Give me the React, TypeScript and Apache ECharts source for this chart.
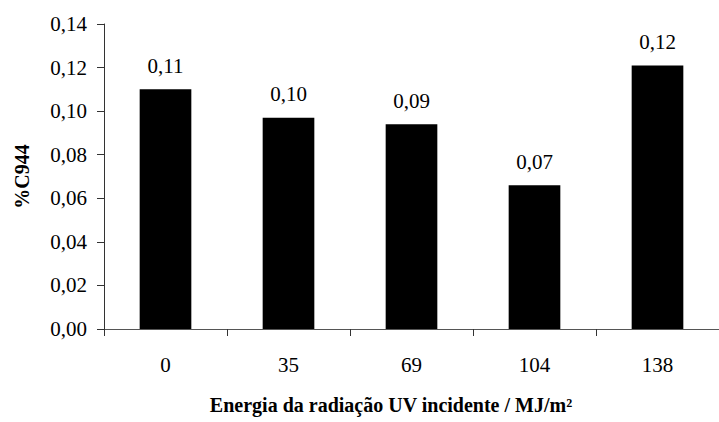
import React, { useEffect, useRef } from "react";
import * as echarts from "echarts";

const categories = ["0", "35", "69", "104", "138"];
const values = [0.110, 0.097, 0.094, 0.066, 0.121];
const yMin = 0;
const yMax = 0.14;
const yInterval = 0.02;
const yAxisName = "%C944";
const xAxisTitle = "Energia da radiação UV incidente / MJ/m²";

const fmt = (v: number) => v.toFixed(2).replace(".", ",");

export default function App() {
  const ref = useRef<HTMLDivElement>(null);
  useEffect(() => {
    if (!ref.current) return;
    const chart = echarts.init(ref.current, undefined, { renderer: "svg" });
    const font = "Times New Roman, Liberation Serif, serif";
    chart.setOption({
      animation: false,
      backgroundColor: "#ffffff",
      textStyle: { fontFamily: font },
      grid: { left: 104, top: 24, width: 622, height: 305, containLabel: false },
      xAxis: {
        type: "category",
        data: categories,
        axisLine: { show: true, lineStyle: { color: "#555", width: 1 } },
        axisTick: { show: true, alignWithLabel: false, length: 7, lineStyle: { color: "#333" } },
        axisLabel: { color: "#000", fontSize: 21, fontFamily: font, margin: 25 },
        splitLine: { show: false },
      },
      yAxis: {
        type: "value",
        min: yMin,
        max: yMax,
        interval: yInterval,
        name: yAxisName,
        nameLocation: "middle",
        nameGap: 72,
        nameRotate: 90,
        nameTextStyle: { color: "#000", fontSize: 20, fontWeight: "bold", fontFamily: font },
        axisLine: { show: true, lineStyle: { color: "#333", width: 1 } },
        axisTick: { show: true, length: 7, lineStyle: { color: "#333" } },
        axisLabel: { color: "#000", fontSize: 21, fontFamily: font, margin: 17, formatter: (v: number) => fmt(v) },
        splitLine: { show: false },
      },
      series: [
        {
          type: "bar",
          data: values,
          barWidth: "42%",
          itemStyle: { color: "#000" },
          label: {
            show: true,
            position: "top",
            distance: 13,
            color: "#000",
            fontSize: 21,
            fontFamily: font,
            formatter: (p: any) => fmt(p.value),
          },
        },
      ],
      graphic: [
        {
          type: "text",
          x: 391,
          y: 405,
          style: {
            text: xAxisTitle,
            fill: "#000",
            fontFamily: font,
            fontSize: 20,
            fontWeight: "bold",
            textAlign: "center",
            textVerticalAlign: "middle",
          },
        },
      ],
    });
    return () => chart.dispose();
  }, []);
  return <div ref={ref} style={{ width: 719, height: 422, position: "absolute", left: 0, top: 0 }} />;
}
